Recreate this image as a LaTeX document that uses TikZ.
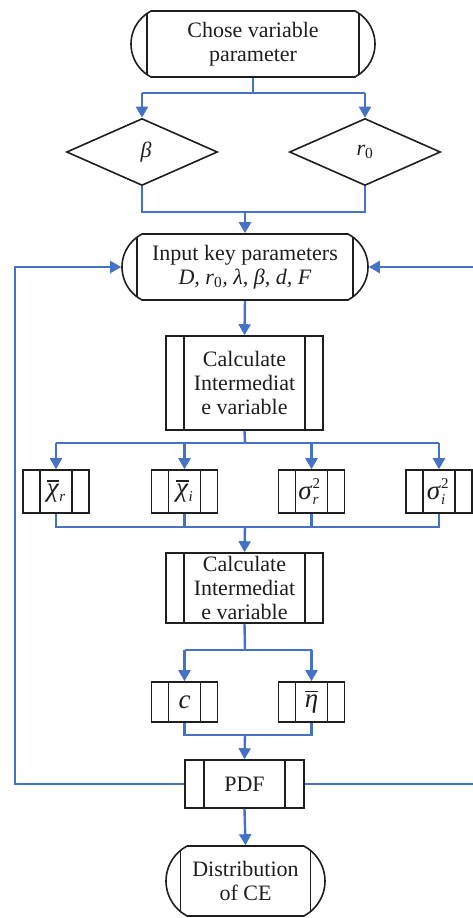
\documentclass[tikz,border=0pt]{standalone}
\usepackage{fontspec}
\setmainfont{Liberation Serif}
\usetikzlibrary{arrows.meta,shapes.geometric,shapes.misc}
\definecolor{lineblue}{RGB}{68,114,196}
\definecolor{ink}{RGB}{30,30,30}
\newcommand{\ovl}[1]{\leavevmode\vbox{\hrule height 1.2pt\kern 3pt\hbox{#1}}}
\newcommand{\smallsz}{\fontsize{15}{15}\selectfont}
\newcommand{\supsub}[2]{\makebox[0pt][l]{\raisebox{11pt}{\smallsz #1}}\raisebox{-5pt}{\smallsz\textit{#2}}}
\begin{document}
\begin{tikzpicture}[x=1pt,y=-1pt,
  every node/.style={font=\fontsize{22}{24}\selectfont, text=ink, inner sep=0pt, line width=1.6pt},
  innerlines/.style={path picture={\draw[line width=1.6pt]
     ([xshift=#1]path picture bounding box.north west) -- ([xshift=#1]path picture bounding box.south west)
     ([xshift=-#1]path picture bounding box.north east) -- ([xshift=-#1]path picture bounding box.south east);}},
  term/.style={draw=ink, rounded rectangle, rounded rectangle arc length=125, align=center, innerlines=#1},
  sub/.style={draw=ink, rectangle, align=center, innerlines=#1},
  small/.style={sub=17, minimum width=66, font=\fontsize{27}{28}\selectfont},
  dec/.style={draw=ink, diamond, minimum width=151, minimum height=67},
  flow/.style={draw=lineblue, line width=2.4pt},
  arr/.style={flow, -{Triangle[width=12pt,length=11pt]}}
]
\useasboundingbox (0,0) rectangle (473,918);

\node[term=21, minimum width=244, minimum height=66] (start) at (253,44) {Chose variable\\parameter};
\node[dec] (db) at (142,152) {\hspace*{8pt}\textit{β}};
\node[dec] (dr) at (365,152) {\textit{r}\textsubscript{0}};
\node[term=20, minimum width=246, minimum height=66] (inp) at (245,267) {Input key parameters\\\textit{D, r}\textsubscript{0}\textit{, λ, β, d, F}};
\node[sub=18, minimum width=157, minimum height=94] (c1) at (244.5,383) {Calculate\\Intermediat\\e variable};
\node[small, minimum height=43] (xr) at (56,491.5) {\ovl{\textit{χ}}\raisebox{-5pt}{\smallsz\textit{r}}};
\node[small, minimum height=43] (xi) at (184.5,491.5) {\ovl{\textit{χ}}\raisebox{-5pt}{\smallsz\textit{i}}};
\node[small, minimum height=43] (sr) at (311.5,491.5) {\textit{σ}\supsub{2}{r}\hspace{6pt}};
\node[small, minimum height=43] (si) at (439,491.5) {\textit{σ}\supsub{2}{i}\hspace{6pt}};
\node[sub=18, minimum width=157, minimum height=70] (c2) at (244.5,588) {Calculate\\Intermediat\\e variable};
\node[small, minimum height=40] (cc) at (184.5,702) {\textit{c}};
\node[small, minimum height=40] (eta) at (311.5,702) {\ovl{\textit{η}}};
\node[sub=19, minimum width=119, minimum height=48] (pdf) at (244.5,784) {PDF};
\node[term=20, minimum width=159, minimum height=70] (dist) at (245.5,881) {Distribution\\of CE};

\coordinate (sp1) at (253,93);
\coordinate (m1) at (245,212);
\coordinate (sp2) at (245,443);
\coordinate (m2) at (245,527);
\coordinate (sp3) at (245,650);
\coordinate (m3) at (245,735);
\coordinate (fl) at (15,784);
\coordinate (fr) at (480,784);

% top split
\draw[flow] (start.south) -- (sp1);
\draw[flow] (db.north |- sp1) -- (dr.north |- sp1);
\draw[arr] (db.north |- sp1) -- (db.north);
\draw[arr] (dr.north |- sp1) -- (dr.north);
\draw[flow] (db.south) -- (db.south |- m1) -- (dr.south |- m1) -- (dr.south);
\draw[arr] (m1) -- (inp.north);
\draw[arr] (inp.south) -- (c1.north);

% four branches
\draw[flow] (c1.south) -- (sp2);
\draw[flow] (xr.north |- sp2) -- (si.north |- sp2);
\foreach \n in {xr,xi,sr,si} {\draw[arr] (\n.north |- sp2) -- (\n.north);}
\draw[flow] (xr.south) -- (xr.south |- m2) -- (si.south |- m2) -- (si.south);
\draw[flow] (xi.south) -- (xi.south |- m2);
\draw[flow] (sr.south) -- (sr.south |- m2);
\draw[arr] (m2) -- (c2.north);

% two branches
\draw[flow] (c2.south) -- (sp3);
\draw[flow] (cc.north |- sp3) -- (eta.north |- sp3);
\draw[arr] (cc.north |- sp3) -- (cc.north);
\draw[arr] (eta.north |- sp3) -- (eta.north);
\draw[flow] (cc.south) -- (cc.south |- m3) -- (eta.south |- m3) -- (eta.south);
\draw[arr] (m3) -- (pdf.north);
\draw[arr] (pdf.south) -- (dist.north);

% feedback
\draw[arr] (pdf.west) -- (fl) |- (inp.west);
\draw[arr] (pdf.east) -- (fr) |- (inp.east);
\end{tikzpicture}
\end{document}
